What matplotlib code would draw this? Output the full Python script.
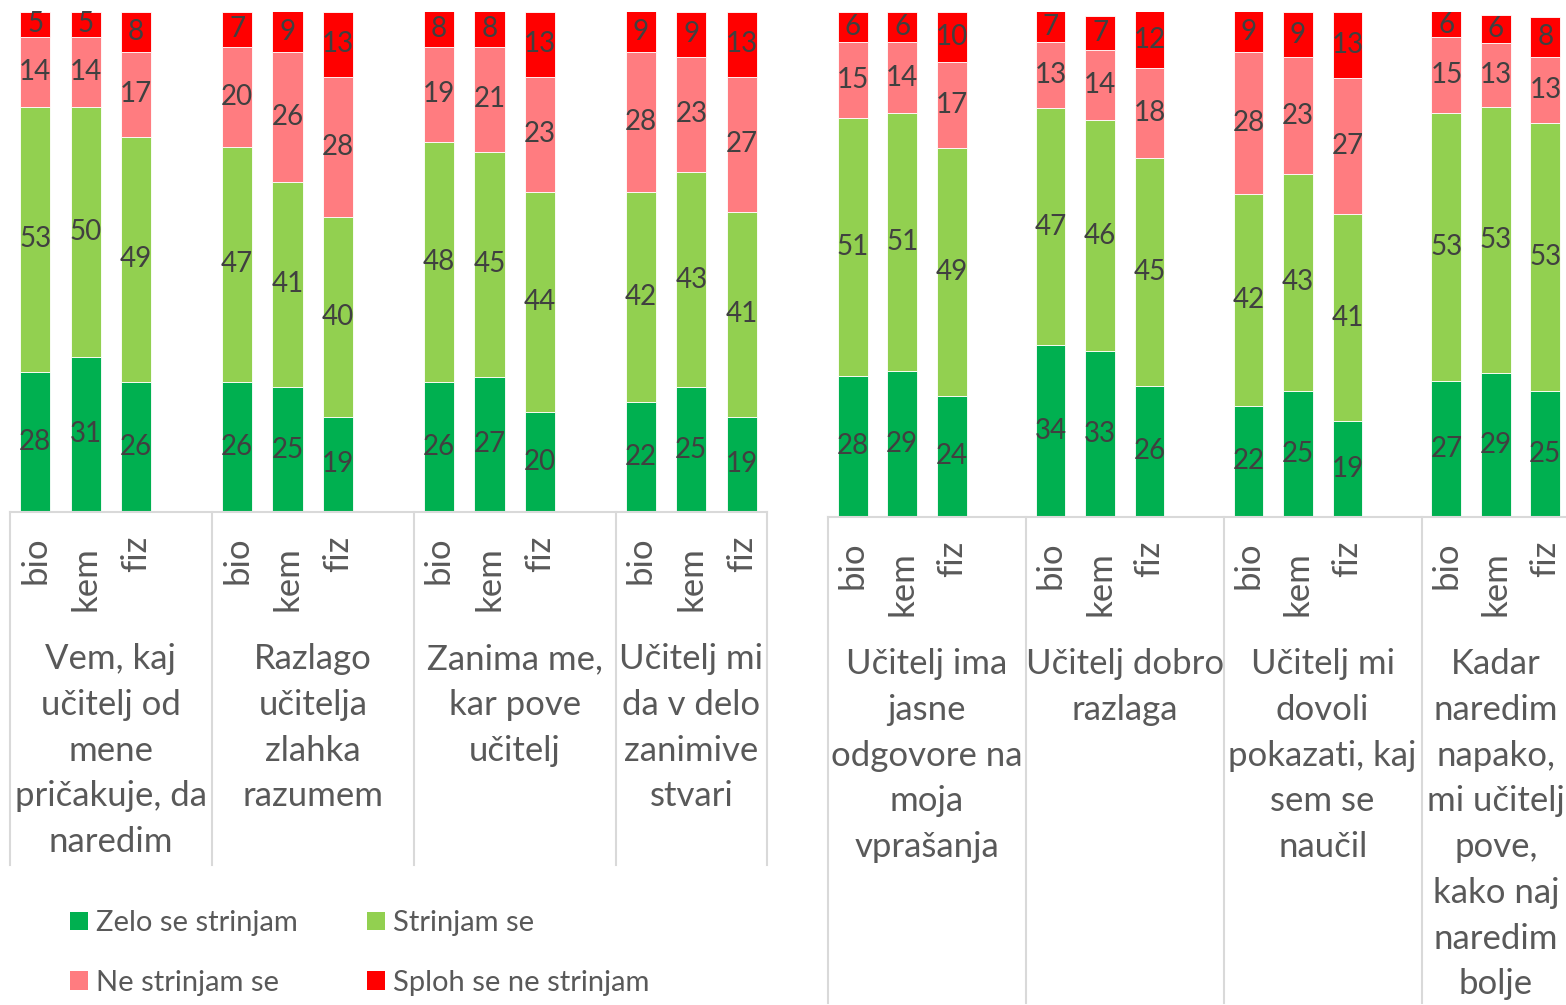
import matplotlib.pyplot as plt
from matplotlib.transforms import blended_transform_factory
from matplotlib.patches import Patch

plt.rcParams['font.family'] = ['Lato', 'DejaVu Sans']

# podatki (odstotki)
subjects = ['bio', 'kem', 'fiz']
series = ['Zelo se strinjam', 'Strinjam se', 'Ne strinjam se', 'Sploh se ne strinjam']
colors = ['#00B050', '#92D050', '#FF7C80', '#FF0000']

left_groups = ['Vem, kaj\nučitelj od\nmene\npričakuje, da\nnaredim',
               'Razlago\nučitelja\nzlahka\nrazumem',
               'Zanima me,\nkar pove\nučitelj',
               'Učitelj mi\nda v delo\nzanimive\nstvari']
right_groups = ['Učitelj ima\njasne\nodgovore na\nmoja\nvprašanja',
                'Učitelj dobro\nrazlaga',
                'Učitelj mi\ndovoli\npokazati, kaj\nsem se\nnaučil',
                'Kadar\nnaredim\nnapako,\nmi učitelj\npove,\nkako naj\nnaredim\nbolje']

# po skupinah: bio, kem, fiz
left_zelo = [28, 31, 26, 26, 25, 19, 26, 27, 20, 22, 25, 19]
left_strinjam = [53, 50, 49, 47, 41, 40, 48, 45, 44, 42, 43, 41]
left_ne = [14, 14, 17, 20, 26, 28, 19, 21, 23, 28, 23, 27]
left_sploh = [5, 5, 8, 7, 9, 13, 8, 8, 13, 9, 9, 13]

right_zelo = [28, 29, 24, 34, 32.8, 26, 22, 25, 19, 27, 28.6, 25]
right_strinjam = [51, 51, 49, 47, 45.8, 45, 42, 43, 41, 53, 52.6, 53]
right_ne = [15, 14, 17, 13, 13.8, 18, 28, 23, 27, 15, 12.6, 13]
right_sploh = [6, 6, 10, 7, 6.8, 12, 9, 9, 13, 6, 5.6, 8]

W, H = 1566, 1005
fig = plt.figure(figsize=(W / 100, H / 100), dpi=100)

sub_shift = [0, 10, 0]  # "kem" stoji nekoliko nižje


def draw_panel(rect, groups, data, line_bottom):
    ax = fig.add_axes(rect)
    pos = [4 * g + j for g in range(len(groups)) for j in range(3)]
    bottom = [0] * len(pos)
    for vals, col in zip(data, colors):
        bars = ax.bar(pos, vals, width=0.6, bottom=bottom, color=col,
                      edgecolor='white', linewidth=0.6)
        ax.bar_label(bars, fmt='%.0f', label_type='center', fontsize=20,
                     color='#404040')
        bottom = [b + v for b, v in zip(bottom, vals)]
    ax.set_xlim(-0.5, 14.5)
    ax.set_ylim(0, 100)
    ax.axis('off')
    ax.axhline(0, color='#d9d9d9', lw=1.5, clip_on=False)

    tr = blended_transform_factory(ax.transData, fig.transFigure)
    y0 = rect[1]
    for xs in [-0.5, 3.5, 7.5, 11.5, 14.5]:
        ax.plot([xs, xs], [y0, line_bottom], transform=tr, color='#d9d9d9',
                lw=1.5, clip_on=False)
    for i, p in enumerate(pos):
        ax.text(p, y0 - (24 + sub_shift[i % 3]) / H, subjects[i % 3],
                transform=tr, rotation=90, ha='center', va='top',
                fontsize=25, color='#595959')
    for g, lab in enumerate(groups):
        xc = 4 * g + 1.5 if g < 3 else 13
        ax.text(xc, y0 - 131 / H, lab, transform=tr, ha='center', va='top',
                fontsize=25, color='#595959', linespacing=1.53)
    return ax


draw_panel([10 / W, 1 - 512 / H, 757 / W, 500 / H], left_groups,
           [left_zelo, left_strinjam, left_ne, left_sploh], 1 - 865 / H)
draw_panel([828 / W, 1 - 517 / H, 742 / W, 505 / H], right_groups,
           [right_zelo, right_strinjam, right_ne, right_sploh], 1 - 1003 / H)

handles = [Patch(facecolor=c, label=s) for c, s in zip(colors, series)]
order = [0, 2, 1, 3]
fig.legend([handles[i] for i in order], [series[i] for i in order],
           ncol=2, frameon=False, loc='upper left',
           bbox_to_anchor=(44 / W, 1 - 884 / H), fontsize=21,
           handlelength=0.62, handleheight=0.62, handletextpad=0.25,
           columnspacing=2.4, labelspacing=1.14, labelcolor='#595959')

fig.savefig('out.png', dpi=100)
